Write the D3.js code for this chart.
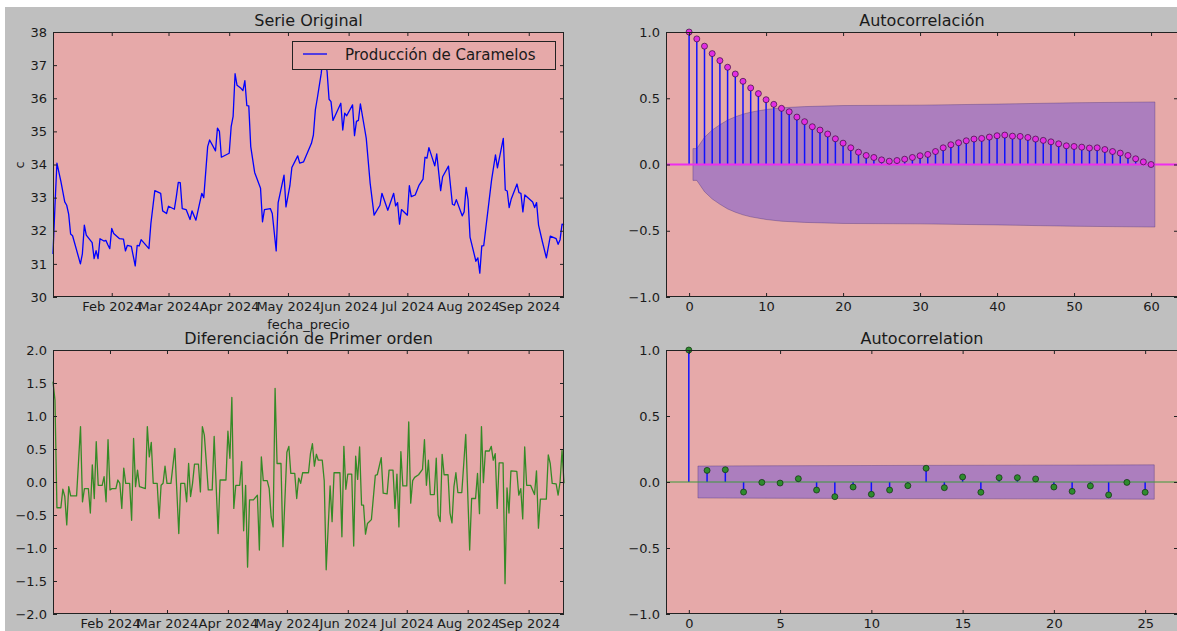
<!DOCTYPE html>
<html>
<head>
<meta charset="utf-8">
<script src="https://cdnjs.cloudflare.com/ajax/libs/d3/7.8.5/d3.min.js"></script>
<style>
  body { margin: 0; background: #ffffff; }
  svg { display: block; }
</style>
</head>
<body>
<script>
'use strict';

// ---- values ----
// day offsets counted from 2024-01-01
const diasSerie = [
  1, 2, 3, 5, 7, 8, 9, 10, 11, 15,
  16, 17, 18, 21, 22, 23, 24, 25, 27, 28,
  29, 30, 31, 32, 35, 37, 38, 39, 41, 43,
  44, 45, 46, 50, 51, 53, 56, 57, 59, 60,
  63, 64, 65, 66, 67, 69, 71, 72, 74, 77,
  78, 80, 81, 84, 85, 86, 87, 91, 92, 93,
  94, 95, 97, 98, 99, 100, 101, 102, 104, 107,
  108, 109, 112, 113, 115, 116, 119, 120, 122, 123,
  126, 127, 129, 133, 134, 135, 136, 138, 139, 140,
  141, 142, 143, 144, 148, 149, 150, 151, 154, 155,
  156, 157, 158, 160, 161, 163, 165, 168, 169, 172,
  175, 176, 177, 178, 179, 182, 183, 184, 186, 188,
  190, 191, 192, 193, 196, 197, 199, 200, 203, 205,
  206, 207, 210, 211, 212, 213, 214, 217, 218, 219,
  220, 221, 225, 227, 228, 231, 232, 233, 234, 235,
  238, 239, 240, 241, 242, 246, 247, 248, 249, 251,
  253, 255, 258, 259, 260, 261, 262
];
const valoresSerie = [
  31.3, 32.75, 34.04, 33.5, 32.87, 32.77, 32.5, 31.9, 31.85, 31.0,
  31.3, 32.17, 31.87, 31.64, 31.16, 31.4, 31.16, 31.76, 31.69, 31.71,
  31.58, 31.46, 32.07, 31.92, 31.76, 31.75, 31.39, 31.56, 31.53, 30.94,
  31.56, 31.54, 31.73, 31.46, 32.22, 33.21, 33.13, 32.6, 32.52, 32.74,
  32.65, 33.03, 33.46, 33.45, 32.67, 32.64, 32.34, 32.6, 32.32, 33.13,
  33.0, 34.54, 34.74, 34.41, 35.1, 35.0, 34.22, 34.34, 35.14, 35.45,
  36.74, 36.39, 36.3, 36.23, 36.53, 35.78, 35.77, 34.54, 33.76, 33.28,
  32.27, 32.64, 32.67, 32.52, 31.39, 32.85, 33.68, 32.72, 33.36, 33.91,
  34.26, 34.04, 34.08, 34.64, 34.89, 35.65, 36.0, 36.75, 37.3, 37.2,
  36.8, 35.97, 35.9, 35.33, 35.85, 35.04, 35.55, 35.47, 35.8, 34.87,
  35.3, 35.33, 35.83, 35.14, 34.79, 33.43, 32.47, 32.77, 33.13, 32.62,
  33.13, 32.75, 32.85, 32.2, 32.64, 32.47, 33.36, 33.03, 33.08, 33.38,
  33.56, 34.22, 34.19, 34.51, 33.96, 34.32, 33.21, 33.63, 33.95, 32.8,
  32.77, 32.94, 32.45, 32.57, 33.31, 32.94, 31.81, 31.08, 31.18, 30.72,
  31.54, 31.55, 33.53, 34.29, 33.9, 34.79, 33.23, 33.2, 32.7, 32.95,
  33.41, 33.15, 33.13, 32.57, 33.08, 32.87, 32.7, 32.85, 32.17, 31.66,
  31.18, 31.84, 31.76, 31.59, 31.73, 32.2, 32.17
];

const diasDiferencia = [
  2, 3, 4, 6, 7, 8, 9, 10, 11, 14,
  16, 17, 18, 20, 21, 22, 23, 24, 25, 27,
  28, 29, 30, 31, 32, 34, 35, 36, 37, 38,
  39, 41, 42, 43, 44, 45, 46, 49, 50, 51,
  52, 53, 55, 56, 57, 58, 59, 60, 62, 64,
  66, 67, 69, 70, 71, 72, 73, 74, 76, 77,
  78, 79, 81, 83, 84, 86, 87, 90, 91, 92,
  93, 94, 95, 97, 98, 99, 100, 101, 102, 104,
  106, 107, 108, 109, 111, 112, 113, 114, 115, 116,
  118, 119, 121, 122, 123, 125, 126, 127, 128, 129,
  132, 133, 134, 135, 136, 137, 139, 140, 141, 143,
  144, 145, 148, 149, 150, 151, 152, 154, 155, 156,
  157, 158, 159, 160, 161, 162, 164, 166, 167, 169,
  170, 172, 173, 175, 176, 177, 178, 179, 180, 182,
  183, 184, 185, 186, 188, 190, 191, 192, 193, 194,
  196, 197, 198, 199, 200, 201, 203, 204, 205, 206,
  207, 208, 210, 212, 214, 215, 217, 218, 219, 220,
  221, 222, 224, 225, 226, 227, 228, 229, 231, 232,
  233, 234, 235, 238, 239, 240, 241, 242, 243, 245,
  247, 248, 249, 250, 253, 254, 255, 256, 258, 259,
  260, 261, 262
];
const valoresDiferencia = [
  1.52, 1.24, -0.39, -0.39, -0.11, -0.22, -0.65, -0.07, -0.21, -0.21,
  0.84, -0.3, -0.1, -0.1, -0.47, 0.26, -0.25, 0.61, -0.05, -0.05,
  0.08, -0.3, 0.64, -0.12, -0.1, -0.1, 0.03, -0.02, -0.4, 0.21,
  -0.02, -0.02, -0.58, 0.66, -0.07, 0.18, -0.07, -0.1, 0.84, 0.38,
  0.6, -0.02, -0.02, -0.55, -0.05, -0.02, 0.24, -0.02, -0.02, 0.51,
  -0.78, -0.02, -0.02, -0.3, 0.28, -0.22, -0.02, 0.27, 0.27, -0.15,
  0.84, 0.71, -0.12, -0.12, 0.69, -0.78, 0.03, 0.03, 0.77, 0.36,
  1.28, -0.4, -0.05, -0.05, 0.31, -0.74, -0.05, -1.29, -0.27, -0.27,
  -0.2, -1.03, 0.38, 0.02, 0.02, -0.1, -0.53, -0.68, 1.42, 0.28,
  0.28, -0.98, 0.45, 0.54, 0.13, 0.13, -0.25, 0.06, -0.02, 0.14,
  0.14, 0.43, 0.58, 0.24, 0.42, 0.33, 0.33, 0.02, -1.33, -0.06,
  -0.6, 0.14, 0.14, -0.83, 0.54, -0.11, 0.12, 0.12, -0.97, 0.39,
  0.04, 0.53, -0.35, -0.35, -0.79, -0.63, -0.57, 0.1, 0.11, 0.37,
  -0.17, -0.18, 0.18, 0.18, -0.4, 0.12, -0.68, 0.46, -0.06, -0.06,
  0.91, -0.32, 0.02, 0.07, 0.11, 0.19, 0.64, -0.05, 0.33, -0.19,
  -0.19, 0.36, -0.5, -0.6, 0.42, 0.11, 0.11, -0.47, -0.62, -0.07,
  0.14, -0.16, -0.16, 0.72, -1.03, -0.25, -0.25, 0.13, -0.48, 0.84,
  -0.01, 0.47, 0.47, 0.54, 0.33, 0.43, -0.4, 0.29, 0.29, -1.54,
  -0.09, -0.47, 0.17, 0.16, -0.2, -0.1, -0.56, 0.53, -0.05, -0.05,
  -0.19, 0.17, -0.7, -0.26, -0.26, 0.41, 0.28, -0.02, -0.03, -0.2,
  0.0, 0.48, -0.02
];

// autocorrelation, lags 0..60
const acfOriginal = [
  1.0, 0.948, 0.893, 0.837, 0.784, 0.734, 0.683, 0.628, 0.578, 0.535,
  0.489, 0.454, 0.424, 0.398, 0.358, 0.323, 0.285, 0.26, 0.23, 0.194,
  0.161, 0.126, 0.093, 0.068, 0.053, 0.035, 0.025, 0.03, 0.04, 0.053,
  0.066, 0.076, 0.098, 0.126, 0.149, 0.164, 0.179, 0.192, 0.197, 0.207,
  0.217, 0.222, 0.214, 0.212, 0.204, 0.192, 0.182, 0.171, 0.156, 0.141,
  0.136, 0.131, 0.124, 0.126, 0.113, 0.098, 0.086, 0.068, 0.043, 0.02,
  0.0
];
const bandaOriginalLags = [0.5, 1, 2, 3, 4, 5, 6, 7, 8, 10, 12, 15, 20, 30, 40, 50, 60.5];
const bandaOriginalAncho = [0.12, 0.12, 0.205, 0.26, 0.3, 0.335, 0.36, 0.38, 0.395, 0.415, 0.428, 0.437, 0.445, 0.448, 0.456, 0.466, 0.472];

// autocorrelation of the differenced series, lags 0..25
const acfDiferencia = [
  1.0, 0.088, 0.093, -0.076, -0.003, -0.008, 0.025, -0.061, -0.111, -0.038,
  -0.093, -0.061, -0.028, 0.104, -0.043, 0.038, -0.078, 0.033, 0.033, 0.023,
  -0.038, -0.071, -0.03, -0.098, -0.003, -0.078
];
const bandaDiferenciaLags = [0.5, 2, 10, 25.5];
const bandaDiferenciaAncho = [0.121, 0.122, 0.125, 0.13];

const mesesTicks = ["2024-02-01", "2024-03-01", "2024-04-01", "2024-05-01",
  "2024-06-01", "2024-07-01", "2024-08-01", "2024-09-01"];
const ticksSerie = [30, 31, 32, 33, 34, 35, 36, 37, 38];
const ticksDiferencia = [-2, -1.5, -1, -0.5, 0, 0.5, 1, 1.5, 2];
const ticksCorr = [-1, -0.5, 0, 0.5, 1];
const ticksLagsOriginal = [0, 10, 20, 30, 40, 50, 60];
const ticksLagsDiferencia = [0, 5, 10, 15, 20, 25];

(function () {

  let svgContainer = "";
  const FONT = "'DejaVu Sans', 'Liberation Sans', sans-serif";
  const ROSA = "#e6a9a9";
  const TINTA = "#1a1a1a";

  // axes boxes, in pixels
  const panelA = { x0: 53, x1: 564, y0: 32, y1: 297 };
  const panelB = { x0: 666, x1: 1178, y0: 32, y1: 297 };
  const panelC = { x0: 53, x1: 564, y0: 350, y1: 614 };
  const panelD = { x0: 666, x1: 1178, y0: 350, y1: 614 };

  const base = Date.UTC(2024, 0, 1);
  const toFecha = (d) => new Date(base + d * 86400000);
  const parseFecha = d3.utcParse("%Y-%m-%d");

  window.onload = function () {
    svgContainer = d3.select('body')
      .append('svg')
      .attr('width', 1177)
      .attr('height', 631)
      .style('font-family', FONT);

    svgContainer.append('rect')
      .attr('width', 1177).attr('height', 631).attr('fill', '#ffffff');
    svgContainer.append('rect')
      .attr('x', 5).attr('y', 7)
      .attr('width', 1172).attr('height', 624)
      .attr('fill', '#bfbfbf');

    makeSerieOriginal();
    makeDiferencia();
    makeAcf(panelB, acfOriginal, bandaOriginalLags, bandaOriginalAncho,
      [-3, 63.5], ticksLagsOriginal,
      { zero: '#ee2dee', zeroWidth: 2, mark: '#e22ee2', edge: '#3a0f3a' },
      'Autocorrelación');
    makeAcf(panelD, acfDiferencia, bandaDiferenciaLags, bandaDiferenciaAncho,
      [-1.25, 26.8], ticksLagsDiferencia,
      { zero: '#3a9a3a', zeroWidth: 1.2, mark: '#2e8b2e', edge: '#0f2f0f' },
      'Autocorrelation');
  };

  function background(box) {
    svgContainer.append('rect')
      .attr('x', box.x0).attr('y', box.y0)
      .attr('width', box.x1 - box.x0).attr('height', box.y1 - box.y0)
      .attr('fill', ROSA);
  }

  function frame(box) {
    svgContainer.append('rect')
      .attr('x', box.x0 + 0.5).attr('y', box.y0 + 0.5)
      .attr('width', box.x1 - box.x0 - 1).attr('height', box.y1 - box.y0 - 1)
      .attr('fill', 'none')
      .attr('stroke', '#222')
      .attr('stroke-width', 1);
  }

  function title(box, y, text) {
    svgContainer.append('text')
      .attr('x', (box.x0 + box.x1) / 2)
      .attr('y', y)
      .attr('text-anchor', 'middle')
      .attr('fill', TINTA)
      .style('font-size', '16px')
      .text(text);
  }

  // ticks point inwards on all four sides, labels only bottom / left
  function drawAxes(box, xScale, yScale, xTicks, yTicks, xFmt, yFmt) {
    const specs = [
      { gen: d3.axisBottom(xScale).tickValues(xTicks).tickFormat(xFmt).tickPadding(5), t: `translate(0,${box.y1})` },
      { gen: d3.axisTop(xScale).tickValues(xTicks).tickFormat(''), t: `translate(0,${box.y0})` },
      { gen: d3.axisLeft(yScale).tickValues(yTicks).tickFormat(yFmt).tickPadding(6), t: `translate(${box.x0},0)` },
      { gen: d3.axisRight(yScale).tickValues(yTicks).tickFormat(''), t: `translate(${box.x1},0)` }
    ];
    specs.forEach((s) => {
      const g = svgContainer.append('g')
        .attr('class', 'axis')
        .attr('transform', s.t)
        .call(s.gen.tickSizeInner(-4).tickSizeOuter(0));
      g.select('.domain').remove();
      g.attr('font-family', FONT).attr('font-size', 13);
      g.selectAll('line').attr('stroke', '#222');
      g.selectAll('text').attr('fill', TINTA);
    });
  }

  function makeSerieOriginal() {
    const box = panelA;
    const data = diasSerie.map((d, i) => ({ fecha: toFecha(d), valor: valoresSerie[i] }));

    const xScale = d3.scaleUtc()
      .domain(d3.extent(data, (d) => d.fecha))
      .range([box.x0, box.x1]);
    const yScale = d3.scaleLinear()
      .domain([30, 38])
      .range([box.y1, box.y0]);

    background(box);

    const line = d3.line()
      .x((d) => xScale(d.fecha))
      .y((d) => yScale(d.valor));

    svgContainer.append('path')
      .datum(data)
      .attr('fill', 'none')
      .attr('stroke', '#0000ff')
      .attr('stroke-width', 1.3)
      .attr('stroke-linejoin', 'round')
      .attr('d', line);

    drawAxes(box, xScale, yScale, mesesTicks.map(parseFecha), ticksSerie,
      d3.utcFormat('%b %Y'), d3.format('d'));

    // legend sits on top of the line, with the axes colour as fill
    svgContainer.append('rect')
      .attr('x', 292.5).attr('y', 41.5)
      .attr('width', 263).attr('height', 28)
      .attr('fill', ROSA)
      .attr('stroke', '#222');
    svgContainer.append('line')
      .attr('x1', 303).attr('x2', 327)
      .attr('y1', 54).attr('y2', 54)
      .attr('stroke', '#0000ff')
      .attr('stroke-width', 1.3);
    svgContainer.append('text')
      .attr('x', 345).attr('y', 60)
      .attr('fill', TINTA)
      .style('font-size', '15px')
      .text('Producción de Caramelos');

    frame(box);
    title(box, 26, 'Serie Original');

    svgContainer.append('text')
      .attr('transform', 'translate(23.5, 165)rotate(-90)')
      .attr('text-anchor', 'middle')
      .attr('fill', TINTA)
      .style('font-size', '13px')
      .text('c');

    svgContainer.append('text')
      .attr('x', (box.x0 + box.x1) / 2)
      .attr('y', 329)
      .attr('text-anchor', 'middle')
      .attr('fill', TINTA)
      .style('font-size', '13px')
      .text('fecha_precio');
  }

  function makeDiferencia() {
    const box = panelC;
    const data = diasDiferencia.map((d, i) => ({ fecha: toFecha(d), valor: valoresDiferencia[i] }));

    const xScale = d3.scaleUtc()
      .domain(d3.extent(data, (d) => d.fecha))
      .range([box.x0, box.x1]);
    const yScale = d3.scaleLinear()
      .domain([-2, 2])
      .range([box.y1, box.y0]);

    background(box);

    const line = d3.line()
      .x((d) => xScale(d.fecha))
      .y((d) => yScale(d.valor));

    svgContainer.append('path')
      .datum(data)
      .attr('fill', 'none')
      .attr('stroke', '#348a26')
      .attr('stroke-width', 1.3)
      .attr('stroke-linejoin', 'round')
      .attr('d', line);

    drawAxes(box, xScale, yScale, mesesTicks.map(parseFecha), ticksDiferencia,
      d3.utcFormat('%b %Y'), d3.format('.1f'));

    frame(box);
    title(box, 344, 'Diferenciación de Primer orden');
  }

  function makeAcf(box, acf, bandLags, bandWidth, xDomain, xTicks, colors, texto) {
    const xScale = d3.scaleLinear().domain(xDomain).range([box.x0, box.x1]);
    const yScale = d3.scaleLinear().domain([-1, 1]).range([box.y1, box.y0]);

    background(box);

    // confidence band sits under the stems and markers
    const band = bandLags.map((l, i) => ({ lag: l, w: bandWidth[i] }));
    const area = d3.area()
      .x((d) => xScale(d.lag))
      .y0((d) => yScale(-d.w))
      .y1((d) => yScale(d.w));
    svgContainer.append('path')
      .datum(band)
      .attr('d', area)
      .attr('fill', '#0000ff')
      .attr('fill-opacity', 0.25)
      .attr('stroke', '#2a1a6a')
      .attr('stroke-opacity', 0.3)
      .attr('stroke-width', 1);

    // stems
    svgContainer.selectAll(null)
      .data(acf)
      .enter()
      .append('line')
      .attr('x1', (d, i) => xScale(i))
      .attr('x2', (d, i) => xScale(i))
      .attr('y1', yScale(0))
      .attr('y2', (d) => yScale(d))
      .attr('stroke', '#1010ff')
      .attr('stroke-width', 1.5);

    // zero line
    svgContainer.append('line')
      .attr('x1', box.x0).attr('x2', box.x1)
      .attr('y1', yScale(0)).attr('y2', yScale(0))
      .attr('stroke', colors.zero)
      .attr('stroke-width', colors.zeroWidth);

    // markers
    svgContainer.selectAll(null)
      .data(acf)
      .enter()
      .append('circle')
      .attr('cx', (d, i) => xScale(i))
      .attr('cy', (d) => yScale(d))
      .attr('r', 3)
      .attr('fill', colors.mark)
      .attr('stroke', colors.edge)
      .attr('stroke-width', 0.7);

    drawAxes(box, xScale, yScale, xTicks, ticksCorr, d3.format('d'), d3.format('.1f'));
    frame(box);
    title(box, box.y0 === 32 ? 26 : 344, texto);
  }

})();
</script>
</body>
</html>
